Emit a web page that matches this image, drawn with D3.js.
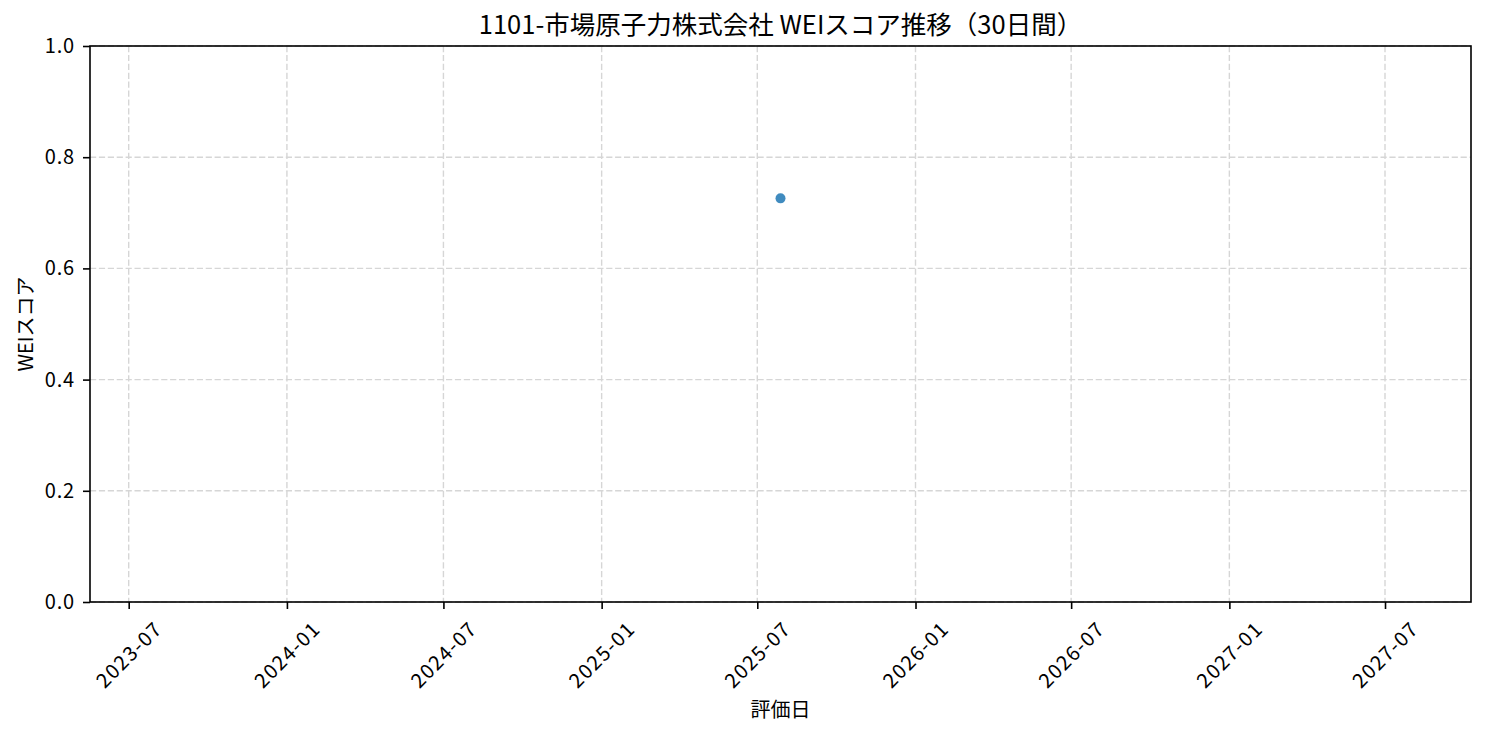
<!DOCTYPE html>
<html>
<head>
<meta charset="utf-8">
<script src="https://cdn.jsdelivr.net/npm/d3@7"></script>
<style>
html,body{margin:0;padding:0;background:#fff;}
svg{display:block;}
text{font-family:"Noto Sans CJK JP","Noto Sans",sans-serif;fill:#000;}
</style>
</head>
<body>
<svg id="chart" width="1485" height="735"></svg>
<script>
const titleText = "1101-市場原子力株式会社 WEIスコア推移（30日間）";
const xLabel = "評価日";
const yLabel = "WEIスコア";
const dates = ["2025-07-28"];
const scores = [0.726];
const yTicks = [0.0, 0.2, 0.4, 0.6, 0.8, 1.0];
const xTickLabels = ["2023-07","2024-01","2024-07","2025-01","2025-07","2026-01","2026-07","2027-01","2027-07"];

const W = 1485, H = 735;
const m = {left: 90, right: 14, top: 46, bottom: 133};
const svg = d3.select("#chart");
const parse = d3.utcParse("%Y-%m-%d");
const pts = dates.map((d,i)=>({date: parse(d), v: scores[i]}));
const FONT = '"Noto Sans CJK JP",sans-serif';
const TICK_FS = 20;

// matplotlib-like autoscale for single date: +-2 years, plus 5% margin
const day = 86400000;
const ext = d3.extent(pts, d=>d.date);
let lo = +ext[0], hi = +ext[1];
if (lo === hi) { lo -= 730*day; hi += 730*day; }
const pad = (hi-lo)*0.05;
const x = d3.scaleUtc().domain([new Date(lo-pad), new Date(hi+pad)]).range([m.left, W-m.right]);
const y = d3.scaleLinear().domain([0,1]).range([H-m.bottom, m.top]);

const xTicks = xTickLabels.map(s=>d3.utcParse("%Y-%m")(s));
const gridColor = "#d6d6d6";

// grid
svg.append("g").selectAll("line").data(xTicks).join("line")
  .attr("x1", d=>x(d)).attr("x2", d=>x(d)).attr("y1", m.top).attr("y2", H-m.bottom)
  .attr("stroke", gridColor).attr("stroke-width", 1.4).attr("stroke-dasharray","6.2,2.7");
svg.append("g").selectAll("line").data(yTicks).join("line")
  .attr("x1", m.left).attr("x2", W-m.right).attr("y1", d=>y(d)).attr("y2", d=>y(d))
  .attr("stroke", gridColor).attr("stroke-width", 1.4).attr("stroke-dasharray","6.2,2.7");

// points
svg.append("g").selectAll("circle").data(pts).join("circle")
  .attr("cx", d=>x(d.date)).attr("cy", d=>y(d.v)).attr("r", 5)
  .attr("fill", "#1f77b4").attr("fill-opacity", 0.85);

// axes
const yAxis = d3.axisLeft(y).tickValues(yTicks).tickFormat(d3.format(".1f")).tickSize(7).tickPadding(8);
const gy = svg.append("g").attr("transform", `translate(${m.left},0)`).call(yAxis);
gy.select(".domain").remove();
gy.selectAll(".tick line").attr("stroke","#000").attr("stroke-width",1.6);
gy.selectAll(".tick text").attr("font-size", TICK_FS).attr("font-family",FONT).attr("fill","#000")
  .attr("letter-spacing", 0.8);

const xAxis = d3.axisBottom(x).tickValues(xTicks).tickFormat(d3.utcFormat("%Y-%m")).tickSize(7);
const gx = svg.append("g").attr("transform", `translate(0,${H-m.bottom})`).call(xAxis);
gx.select(".domain").remove();
gx.selectAll(".tick line").attr("stroke","#000").attr("stroke-width",1.6);
gx.selectAll(".tick text")
  .attr("font-size", TICK_FS).attr("font-family",FONT).attr("fill","#000")
  .attr("letter-spacing", 1.4)
  .attr("text-anchor","middle").attr("dy","0.35em").attr("y",0)
  .attr("transform","rotate(-45)");
gx.selectAll(".tick text").each(function(){
  const bb = this.getBoundingClientRect();
  d3.select(this).attr("transform", `translate(0,${13 + bb.height/2}) rotate(-45)`);
});

// frame
svg.append("rect").attr("x", m.left).attr("y", m.top)
  .attr("width", W-m.left-m.right).attr("height", H-m.top-m.bottom)
  .attr("fill","none").attr("stroke","#000").attr("stroke-width",1.6);

// title and labels
svg.append("text").attr("x", (m.left + W-m.right)/2).attr("y", 34)
  .attr("text-anchor","middle").attr("font-size", 25.5).text(titleText);
svg.append("text").attr("x", (m.left + W-m.right)/2).attr("y", 717)
  .attr("text-anchor","middle").attr("font-size", TICK_FS).text(xLabel);
svg.append("text").attr("transform", `translate(33,${(m.top + H-m.bottom)/2}) rotate(-90)`)
  .attr("text-anchor","middle").attr("font-size", TICK_FS).text(yLabel);
</script>
</body>
</html>
